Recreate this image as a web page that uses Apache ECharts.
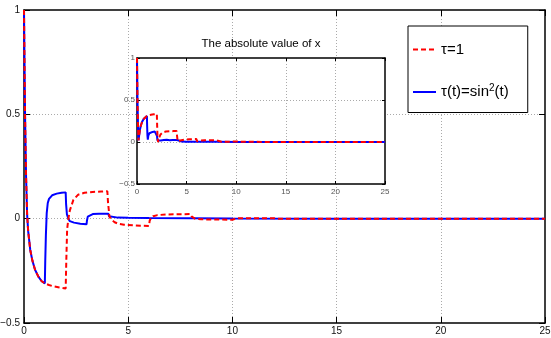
<!DOCTYPE html>
<html><head><meta charset="utf-8">
<script src="https://cdn.jsdelivr.net/npm/echarts@6/dist/echarts.min.js"></script>
<style>html,body{margin:0;padding:0;background:#fff}#c{width:551px;height:338px}</style>
</head><body><div id="c"></div>
<script>
// ---- data ----
const tBlue = [0,0.02,0.05,0.1,0.15,0.2,0.3,0.4,0.53,0.69,0.85,1.0,1.02,1.05,1.09,1.14,1.2,1.25,1.35,1.57,1.8,2.0,2.02,2.06,2.13,2.2,2.4,2.7,3.0,3.02,3.06,3.13,3.3,3.6,4.05,4.08,4.15,4.5,5,6,8,10,15,25];
const xBlue = [1,0.8,0.5,0.2,0.02,-0.06,-0.15,-0.2,-0.245,-0.278,-0.3,-0.31,-0.2,-0.08,0.027,0.075,0.095,0.104,0.112,0.12,0.124,0.126,0.07,0.02,0,-0.012,-0.019,-0.024,-0.027,-0.01,0.01,0.019,0.022,0.024,0.024,0.012,0.007,0.005,0.004,0.003,0.002,0.001,0,0];
const tRed = [0,0.02,0.05,0.1,0.15,0.2,0.3,0.4,0.53,0.69,0.85,1.0,1.2,1.4,1.7,2.0,2.03,2.07,2.13,2.2,2.37,2.6,2.9,3.3,3.7,4.0,4.03,4.1,4.2,4.35,4.53,4.8,5.25,5.6,6.0,6.03,6.1,6.2,6.4,6.8,7.3,8.0,8.05,8.2,8.5,9,10,10.05,10.2,12,12.1,14,25];
const xRed = [1,0.8,0.5,0.2,0.02,-0.06,-0.15,-0.2,-0.245,-0.278,-0.3,-0.31,-0.318,-0.324,-0.33,-0.335,-0.2,-0.05,0,0.04,0.09,0.115,0.124,0.128,0.13,0.131,0.08,0.01,-0.005,-0.017,-0.025,-0.029,-0.032,-0.034,-0.035,-0.01,0.005,0.012,0.017,0.02,0.021,0.022,0.01,0,-0.003,-0.004,-0.005,-0.001,0.002,0.002,0,0,0];
const xTicks = [0, 25, 5];      // min, max, interval
const yTicks = [-0.5, 1, 0.5];
const nameRed = 'τ=1';
const nameBlue = 'τ(t)=sin2(t)';
const insetTitle = 'The absolute value of x';

const zip = (t, v) => t.map((x, i) => [x, v[i]]);
const zipAbs = (t, v) => t.map((x, i) => [x, Math.abs(v[i])]);

const FONT = '"Liberation Sans",Arial,sans-serif';
const fmt = v => String(v).replace('-', '\u2212');

function xAx(grid, pos, labels, split, tickLen, fs, col) {
  return {type:'value', gridIndex:grid, position:pos, min:xTicks[0], max:xTicks[1], interval:xTicks[2],
    z: grid ? 3 : 0,
    axisLine:{show:true, onZero:false, lineStyle:{color:'#000', width:1.5}},
    axisTick:{show:true, inside:true, length:tickLen, lineStyle:{color:'#000', width:1}},
    axisLabel:{show:labels, margin: grid?4:3, fontSize:fs, fontFamily:FONT, color:col, formatter:fmt},
    splitLine:{show:split, showMinLine:false, showMaxLine:false, lineStyle:{color:'#aaa', type:[1,2], width:1}}};
}
function yAx(grid, pos, labels, split, tickLen, fs, col) {
  return {type:'value', gridIndex:grid, position:pos, min:yTicks[0], max:yTicks[1], interval:yTicks[2],
    z: grid ? 3 : 0,
    axisLine:{show:true, onZero:false, lineStyle:{color:'#000', width:1.5}},
    axisTick:{show:true, inside:true, length:tickLen, lineStyle:{color:'#000', width:1}},
    axisLabel:{show:labels, margin: grid?2:4, fontSize:fs, fontFamily:FONT, color:col, formatter:fmt},
    splitLine:{show:split, showMinLine:false, showMaxLine:false, lineStyle:{color:'#aaa', type:[1,2], width:1}}};
}

const chart = echarts.init(document.getElementById('c'), null, {renderer:'canvas'});
chart.setOption({
  animation:false,
  backgroundColor:'#fff',
  title:{text:insetTitle, left:261, top:38, padding:0, textAlign:'center', z:5,
    textStyle:{fontFamily:FONT, fontSize:11.5, fontWeight:'normal', color:'#000'}},
  legend:{left:408, top:26, orient:'vertical', padding:[16,19,13,4], itemGap:26, itemWidth:23, itemHeight:14,
    backgroundColor:'#fff', borderColor:'#000', borderWidth:1, z:6,
    itemStyle:{opacity:0},
    data:[nameRed, nameBlue],
    formatter: n => n === nameBlue ? '{a|τ(t)=sin}{s|2}{a|(t)}' : '{a|' + n + '}',
    textStyle:{fontFamily:FONT, fontSize:15, color:'#000',
      rich:{a:{fontFamily:FONT, fontSize:15, color:'#000'}, s:{fontFamily:FONT, fontSize:10, color:'#000', padding:[0,0,8,0]}}}},
  grid:[
    {left:24, top:10, width:521, height:313, z:0, containLabel:false, outerBoundsMode:'none'},
    {left:137, top:58, width:248, height:126, show:true, backgroundColor:'#fff', borderWidth:0, z:3, containLabel:false, outerBoundsMode:'none'}
  ],
  xAxis:[
    xAx(0,'bottom',true,true,6,10,'#111'), xAx(0,'top',false,false,6,10,'#111'),
    xAx(1,'bottom',true,true,3,8,'#555'), xAx(1,'top',false,false,3,8,'#555')
  ],
  yAxis:[
    yAx(0,'left',true,true,6,10,'#111'), yAx(0,'right',false,false,6,10,'#111'),
    yAx(1,'left',true,true,3,8,'#555'), yAx(1,'right',false,false,3,8,'#555')
  ],
  series:[
    {name:nameBlue, type:'line', xAxisIndex:0, yAxisIndex:0, data:zip(tBlue,xBlue), showSymbol:false, symbol:'none',
      lineStyle:{color:'#0000ff', width:2}, itemStyle:{color:'#0000ff'}, z:2},
    {name:nameRed, type:'line', xAxisIndex:0, yAxisIndex:0, data:zip(tRed,xRed), showSymbol:false, symbol:'none',
      lineStyle:{color:'#ff0000', width:2, type:[5,3]}, itemStyle:{color:'#ff0000'}, z:2},
    {name:nameBlue, type:'line', xAxisIndex:2, yAxisIndex:2, data:zipAbs(tBlue,xBlue), showSymbol:false, symbol:'none',
      lineStyle:{color:'#0000ff', width:2}, itemStyle:{color:'#0000ff'}, z:4},
    {name:nameRed, type:'line', xAxisIndex:2, yAxisIndex:2, data:zipAbs(tRed,xRed), showSymbol:false, symbol:'none',
      lineStyle:{color:'#ff0000', width:2, type:[5,3]}, itemStyle:{color:'#ff0000'}, z:4}
  ]
});
</script></body></html>
